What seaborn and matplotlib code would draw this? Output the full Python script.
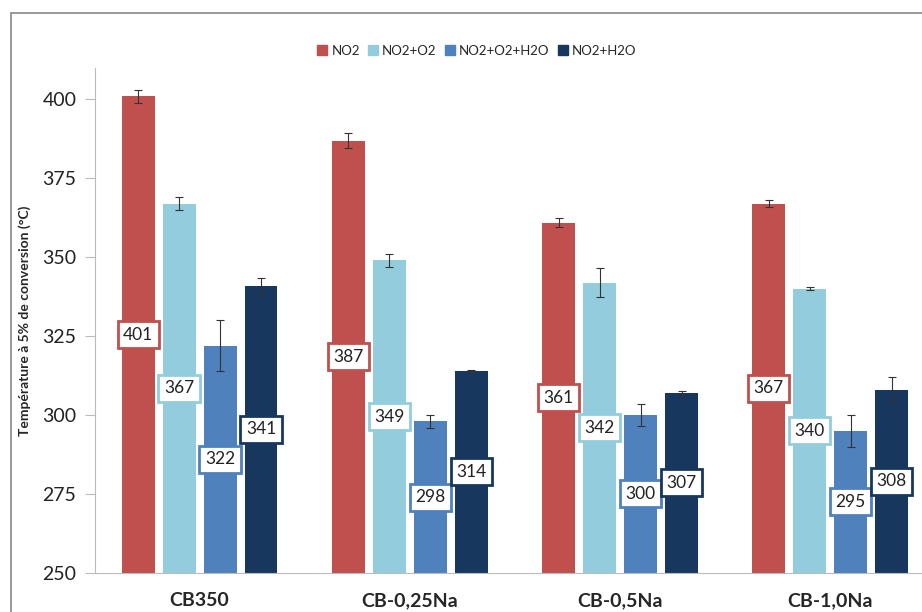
import pandas as pd
import matplotlib
matplotlib.use("Agg")
import matplotlib.pyplot as plt
import matplotlib.patches as mpatches
import seaborn as sns

# Data
catalysts = ["CB350", "CB-0,25Na", "CB-0,5Na", "CB-1,0Na"]
conditions = ["NO2", "NO2+O2", "NO2+O2+H2O", "NO2+H2O"]
no2 = [401, 387, 361, 367]
no2_o2 = [367, 349, 342, 340]
no2_o2_h2o = [322, 298, 300, 295]
no2_h2o = [341, 314, 307, 308]
err_no2 = [2.0, 2.5, 1.5, 1.0]
err_no2_o2 = [2.0, 2.0, 4.5, 0.5]
err_no2_o2_h2o = [8.0, 2.0, 3.5, 5.0]
err_no2_h2o = [2.5, 0.2, 0.5, 4.0]
colors = ["#C0504D", "#93CDDD", "#4F81BD", "#17375E"]

values = [no2, no2_o2, no2_o2_h2o, no2_h2o]
errors = [err_no2, err_no2_o2, err_no2_o2_h2o, err_no2_h2o]

rows = []
for cond, vals in zip(conditions, values):
    for cat, v in zip(catalysts, vals):
        rows.append({"catalyst": cat, "condition": cond, "temp": v})
df = pd.DataFrame(rows)

sns.set_style("white")
plt.rcParams["font.family"] = ["Lato", "DejaVu Sans"]

fig = plt.figure(figsize=(9.22, 6.12), dpi=100)
ax = fig.add_axes([0.1025, 0.064, 0.912, 0.825])

sns.barplot(data=df, x="catalyst", y="temp", hue="condition",
            order=catalysts, hue_order=conditions, palette=colors,
            saturation=1, width=0.78, gap=0.2, errorbar=None,
            linewidth=0, ax=ax)

# error bars and value labels
for container, vals, errs, col in zip(ax.containers, values, errors, colors):
    xs = [b.get_x() + b.get_width() / 2 for b in container]
    ax.errorbar(xs, vals, yerr=errs, fmt="none", ecolor="#333333",
                elinewidth=0.8, capsize=3, capthick=0.8, zorder=3)
    for x, v in zip(xs, vals):
        ax.text(x, (250 + v) / 2, str(v), ha="center", va="center",
                fontsize=12.5, color="#222222", zorder=4,
                bbox=dict(boxstyle="square,pad=0.32", fc="white",
                          ec=col, lw=2))

ax.set_ylim(250, 410)
ax.set_xlim(-0.5, 3.5)
ax.set_yticks([250, 275, 300, 325, 350, 375, 400])
ax.tick_params(axis="y", labelsize=14, length=7, color="#BBBBBB",
               left=True, pad=6, labelcolor="#222222")
ax.tick_params(axis="x", length=0, pad=14)
for lab in ax.get_xticklabels():
    lab.set_fontsize(14)
    lab.set_fontweight("bold")
ax.set_xlabel("")
ax.set_ylabel("Température à 5% de conversion (°C)", fontsize=10,
              fontweight="bold", labelpad=8)
for s in ["top", "right"]:
    ax.spines[s].set_visible(False)
ax.spines["left"].set_color("#BBBBBB")
ax.spines["bottom"].set_color("#BBBBBB")

ax.legend_.remove()
handles = [mpatches.Patch(color=c, label=l) for c, l in zip(colors, conditions)]
fig.legend(handles=handles, loc="center", bbox_to_anchor=(0.517, 0.917),
           ncol=4, frameon=False, fontsize=9.5, handlelength=0.8,
           handleheight=0.8, handletextpad=0.3, columnspacing=0.6)

# outer chart border (cut off by the crop)
fig.patches.append(mpatches.Rectangle((0.012, -0.2), 1.2, 1.178,
                                      transform=fig.transFigure, fill=False,
                                      ec="#888888", lw=1.2))

fig.savefig("out.png", dpi=100)
